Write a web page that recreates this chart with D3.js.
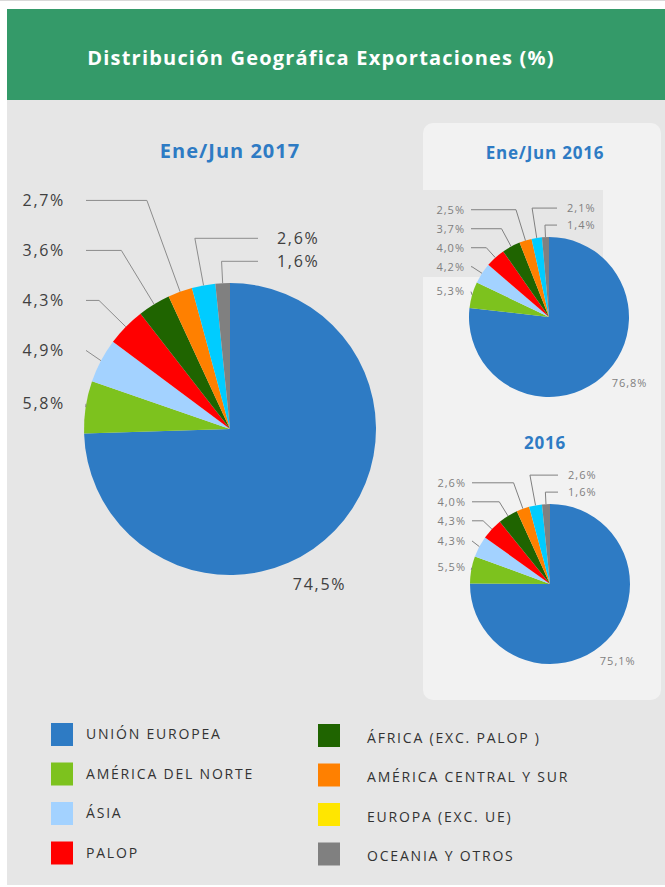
<!DOCTYPE html>
<html>
<head>
<meta charset="utf-8">
<script src="https://cdn.jsdelivr.net/npm/d3@7"></script>
<style>
  body { margin: 0; background: #fff; }
  svg { display: block; font-family: "Open Sans", "DejaVu Sans", sans-serif; }
</style>
</head>
<body>
<div id="chart"></div>
<script>
// ---- data ----
var categories = [
  "UNIÓN EUROPEA", "AMÉRICA DEL NORTE", "ÁSIA", "PALOP",
  "ÁFRICA (EXC. PALOP )", "AMÉRICA CENTRAL Y SUR", "EUROPA (EXC. UE)", "OCEANIA Y OTROS"
]
var values2017H1 = [74.5, 5.8, 4.9, 4.3, 3.6, 2.7, 2.6, 1.6]
var values2016H1 = [76.8, 5.3, 4.2, 4.0, 3.7, 2.5, 2.1, 1.4]
var values2016 = [75.1, 5.5, 4.3, 4.3, 4.0, 2.6, 2.6, 1.6]
var pieTitles = ["Ene/Jun 2017", "Ene/Jun 2016", "2016"]
var mainTitle = "Distribución Geográfica Exportaciones (%)"

// slice colours (the pies draw Europa in cyan, the legend shows it yellow)
var sliceColors = ["#2e7bc4", "#7dc21e", "#a3d2ff", "#ff0000", "#1f6400", "#ff8000", "#00ccff", "#808080"]
var legendColors = ["#2e7bc4", "#7dc21e", "#a3d2ff", "#ff0000", "#1f6400", "#ff8000", "#ffe600", "#808080"]

var locale = d3.formatLocale({ decimal: ",", thousands: ".", grouping: [3], currency: ["", "€"] })
var fmt = locale.format(".1f")

var W = 665, H = 887

var svg = d3.select("#chart").append("svg")
  .attr("width", W)
  .attr("height", H)

// backgrounds
svg.append("rect").attr("x", 0).attr("y", 0).attr("width", W).attr("height", 1).attr("fill", "#d9d9d9")
svg.append("rect").attr("x", 7).attr("y", 9).attr("width", W - 7).attr("height", 91).attr("fill", "#349a69")
svg.append("rect").attr("x", 7).attr("y", 100).attr("width", W - 7).attr("height", 785).attr("fill", "#e6e6e6")
svg.append("rect").attr("x", 423).attr("y", 123).attr("width", 238).attr("height", 577)
  .attr("rx", 10).attr("fill", "#f2f2f2")
svg.append("rect").attr("x", 423).attr("y", 190).attr("width", 180).attr("height", 87).attr("fill", "#e6e6e6")

svg.append("text")
  .attr("x", 321)
  .attr("y", 65)
  .attr("text-anchor", "middle")
  .attr("fill", "#fff")
  .attr("font-size", 20)
  .attr("font-weight", 700)
  .attr("letter-spacing", 1.2)
  .text(mainTitle)

/*
 * PieChart - one pie with its title and leader-line labels
 */
PieChart = function (_svg, _data, _title, _layout) {
  this.svg = _svg
  this.data = _data
  this.title = _title
  this.layout = _layout
  this.initVis()
}

PieChart.prototype.initVis = function () {
  var vis = this
  var L = vis.layout

  vis.g = vis.svg.append("g")

  vis.g.append("text")
    .attr("x", L.titleX)
    .attr("y", L.titleY)
    .attr("text-anchor", "middle")
    .attr("fill", "#2e7bc4")
    .attr("font-size", L.titleSize)
    .attr("font-weight", 700)
    .attr("letter-spacing", L.titleSpacing)
    .text(vis.title)

  vis.pie = d3.pie().sort(null).value((d) => d.value)
  vis.arc = d3.arc().innerRadius(0).outerRadius(L.r)

  vis.updateVis()
}

PieChart.prototype.updateVis = function () {
  var vis = this
  var L = vis.layout

  var arcs = vis.pie(vis.data.map((v, i) => ({ value: v, i: i })))

  var pieG = vis.g.append("g").attr("transform", "translate(" + L.cx + "," + L.cy + ")")
  pieG.selectAll("path")
    .data(arcs)
    .enter()
    .append("path")
    .attr("d", vis.arc)
    .attr("fill", (d) => sliceColors[d.data.i])

  // label positions
  arcs.forEach((d) => {
    d.mid = (d.startAngle + d.endAngle) / 2
    d.ax = L.cx + L.r * Math.sin(d.mid)
    d.ay = L.cy - L.r * Math.cos(d.mid)
    d.ty = L.cy - 1.15 * L.r * Math.cos(d.mid)
  })

  var main = arcs[0]
  var small = arcs.slice(1)
  var right = small.filter((d) => d.mid > (345 * Math.PI) / 180).sort((a, b) => b.mid - a.mid)
  var left = small.filter((d) => d.mid <= (345 * Math.PI) / 180).sort((a, b) => a.mid - b.mid)

  // stack labels upwards so they don't overlap
  left.forEach((d, k) => { if (k > 0) d.ty = Math.min(d.ty, left[k - 1].ty - L.gapLeft) })
  right.forEach((d, k) => { if (k > 0) d.ty = Math.min(d.ty, right[k - 1].ty - L.gapRight) })

  var textEnd = L.cx - L.r - L.textPad
  var lineStartL = textEnd + L.lineGap
  var lineEndR = L.cx + L.rightLine
  var textStartR = lineEndR + L.rightGap

  function elbow(d) {
    var c = Math.cos(d.mid)
    var t = c > 0 ? (d.ay - d.ty) / c : 0
    if (t < 0) t = 0
    return [d.ax + t * Math.sin(d.mid), d.ty]
  }

  left.forEach((d) => {
    var e = elbow(d)
    var pts = e[0] > lineStartL ? [[lineStartL, d.ty], e, [d.ax, d.ay]] : [[lineStartL, d.ty], [d.ax, d.ay]]
    vis.g.append("polyline")
      .attr("points", pts.map((p) => p.join(",")).join(" "))
      .attr("fill", "none")
      .attr("stroke", L.lineColor)
      .attr("stroke-width", 1)
  })
  right.forEach((d) => {
    var e = elbow(d)
    var pts = [[lineEndR, d.ty], e, [d.ax, d.ay]]
    vis.g.append("polyline")
      .attr("points", pts.map((p) => p.join(",")).join(" "))
      .attr("fill", "none")
      .attr("stroke", L.lineColor)
      .attr("stroke-width", 1)
  })

  var labelText = function (sel) {
    sel.attr("fill", L.labelColor)
      .attr("font-size", L.labelSize)
      .attr("letter-spacing", L.labelSpacing)
      .attr("dy", "0.35em")
  }

  vis.g.selectAll(".lab-left")
    .data(left)
    .enter()
    .append("text")
    .attr("class", "lab-left")
    .attr("x", textEnd)
    .attr("y", (d) => d.ty)
    .attr("text-anchor", "end")
    .call(labelText)
    .text((d) => fmt(d.value) + "%")

  vis.g.selectAll(".lab-right")
    .data(right)
    .enter()
    .append("text")
    .attr("class", "lab-right")
    .attr("x", textStartR)
    .attr("y", (d) => d.ty)
    .attr("text-anchor", "start")
    .call(labelText)
    .text((d) => fmt(d.value) + "%")

  // the big slice label sits outside, near its lower right edge
  var ma = main.mid + (L.mainShift * Math.PI) / 180
  vis.g.append("text")
    .attr("x", L.cx + L.mainR * L.r * Math.sin(ma))
    .attr("y", L.cy - L.mainR * L.r * Math.cos(ma))
    .attr("text-anchor", "middle")
    .call(labelText)
    .text(fmt(main.value) + "%")
}

var bigLayout = {
  cx: 230, cy: 429, r: 146, titleX: 230, titleY: 158, titleSize: 20, titleSpacing: 1,
  labelSize: 16, labelColor: "#404040", labelSpacing: 1.7, lineColor: "#8c8c8c",
  gapLeft: 50, gapRight: 23, textPad: 19, lineGap: 21, rightLine: 28, rightGap: 19,
  mainR: 1.23, mainShift: 16
}
var topLayout = {
  cx: 549, cy: 317, r: 80, titleX: 545, titleY: 159, titleSize: 17, titleSpacing: 0.8,
  labelSize: 11, labelColor: "#7f7f7f", labelSpacing: 1, lineColor: "#808080",
  gapLeft: 19, gapRight: 17, textPad: 4, lineGap: 6, rightLine: 8, rightGap: 10,
  mainR: 1.3, mainShift: -9
}
var bottomLayout = Object.assign({}, topLayout, { cx: 550, cy: 584, titleY: 449, mainR: 1.28, mainShift: 3.4 })

new PieChart(svg, values2017H1, pieTitles[0], bigLayout)
new PieChart(svg, values2016H1, pieTitles[1], topLayout)
new PieChart(svg, values2016, pieTitles[2], bottomLayout)

// legend: two columns of four
var legend = svg.append("g")
  .selectAll("g")
  .data(categories)
  .enter()
  .append("g")
  .attr("transform", (d, i) => {
    var col = Math.floor(i / 4), row = i % 4
    return "translate(" + (col ? 318 : 51) + "," + ((col ? 724 : 723) + row * 39.5) + ")"
  })

legend.append("rect")
  .attr("width", 22)
  .attr("height", 23)
  .attr("fill", (d, i) => legendColors[i])

legend.append("text")
  .attr("x", (d, i) => (i >= 4 ? 49 : 35))
  .attr("y", (d, i) => (i >= 4 ? 14 : 11.5))
  .attr("dy", "0.35em")
  .attr("fill", "#333")
  .attr("font-size", 14)
  .attr("letter-spacing", 1.8)
  .text((d) => d)
</script>
</body>
</html>
